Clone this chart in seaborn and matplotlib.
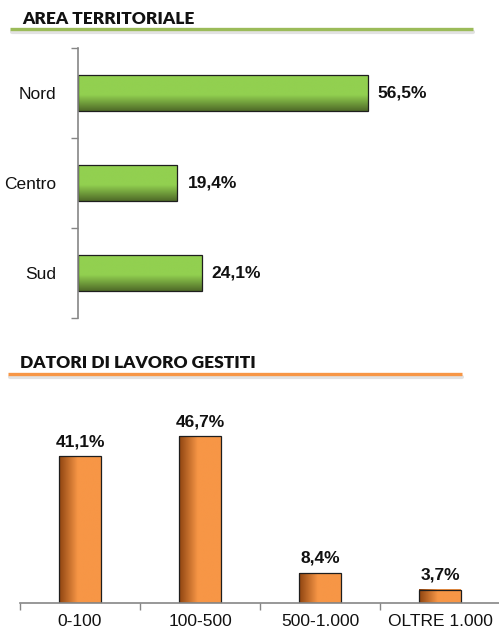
import numpy as np
import pandas as pd
import matplotlib
matplotlib.use("Agg")
import matplotlib.pyplot as plt
from matplotlib.lines import Line2D
from matplotlib.colors import LinearSegmentedColormap
import seaborn as sns

# data
aree = ["Nord", "Centro", "Sud"]
aree_pct = [56.5, 19.4, 24.1]

fasce = ["0-100", "100-500", "500-1.000", "OLTRE 1.000"]
fasce_pct = [41.1, 46.7, 8.4, 3.7]

sns.set_theme(style="white")
plt.rcParams["font.family"] = ["Liberation Sans", "DejaVu Sans"]

W, H = 499, 632
fig = plt.figure(figsize=(W / 100, H / 100), dpi=100)


def px_axes(left, top, right, bottom):
    return fig.add_axes([left / W, 1 - bottom / H, (right - left) / W, (bottom - top) / H])


def gradient_bars(ax, cmap, vertical):
    for p in ax.patches:
        x, y, w, h = p.get_x(), p.get_y(), p.get_width(), p.get_height()
        if vertical:
            grad = np.linspace(0, 1, 200).reshape(-1, 1)
        else:
            grad = np.linspace(0, 1, 200).reshape(1, -1)
        ax.imshow(grad, extent=[x, x + w, y, y + h], origin="lower", cmap=cmap,
                  aspect="auto", zorder=1, interpolation="bilinear")
        p.set_facecolor("none")
        p.set_edgecolor("#1e1e1e")
        p.set_linewidth(0.9)
        p.set_zorder(2)


def section_title(text, x0, x1, y_text, y_line, color):
    fig.text(x0 / W, 1 - y_text / H, text, fontsize=12.5, fontweight="heavy",
             family=["Lato", "DejaVu Sans"], color="#111111", va="baseline")
    fig.add_artist(Line2D([x0 / W - 0.02, x1 / W], [1 - (y_line + 3) / H] * 2,
                          color="#d0d0d0", lw=3, alpha=0.6))
    fig.add_artist(Line2D([x0 / W - 0.024, x1 / W], [1 - y_line / H] * 2,
                          color=color, lw=2.4, solid_capstyle="butt"))


# ---- AREA TERRITORIALE ----
section_title("AREA TERRITORIALE", 22, 473, 24, 29, "#9BBB59")

green = LinearSegmentedColormap.from_list(
    "g", [(0, "#92D050"), (0.55, "#92D050"), (1, "#4F6A28")])
ax1 = px_axes(78, 48, 488, 318)
df1 = pd.DataFrame({"area": aree, "pct": aree_pct})
sns.barplot(data=df1, y="area", x="pct", orient="h", width=0.4, ax=ax1)
gradient_bars(ax1, green, vertical=True)
ax1.set_xlim(0, 80)
ax1.set_ylim(2.5, -0.5)
for i, v in enumerate(aree_pct):
    ax1.text(v + 2, i, f"{v:.1f}".replace(".", ",") + "%", va="center", ha="left",
             fontsize=12.5, fontweight="bold", color="#111111")
ax1.set_xlabel("")
ax1.set_ylabel("")
ax1.set_xticks([])
ax1.set_yticks(range(len(aree)))
ax1.set_yticklabels(aree, fontsize=12.5, color="#111111")
ax1.set_yticks([-0.5, 0.5, 1.5, 2.5], minor=True)
ax1.tick_params(axis="y", which="major", length=0, pad=16)
ax1.tick_params(axis="y", which="minor", length=5, width=1, color="#868686", left=True)
for s in ["top", "right", "bottom"]:
    ax1.spines[s].set_visible(False)
ax1.spines["left"].set_color("#868686")
ax1.spines["left"].set_linewidth(1.2)

# ---- DATORI DI LAVORO GESTITI ----
section_title("DATORI DI LAVORO GESTITI", 20, 462, 368, 374, "#F79646")

orange = LinearSegmentedColormap.from_list(
    "o", [(0, "#8E4410"), (0.45, "#F79646"), (1, "#F79646")])
ax2 = px_axes(20, 424.5, 500, 603)
df2 = pd.DataFrame({"fascia": fasce, "pct": fasce_pct})
sns.barplot(data=df2, x="fascia", y="pct", width=0.35, ax=ax2)
gradient_bars(ax2, orange, vertical=False)
ax2.set_ylim(0, 50)
ax2.set_xlim(-0.5, 3.5)
for i, v in enumerate(fasce_pct):
    ax2.text(i, v + 2, f"{v:.1f}".replace(".", ",") + "%", ha="center", va="bottom",
             fontsize=12.5, fontweight="bold", color="#111111", clip_on=False)
ax2.set_xlabel("")
ax2.set_ylabel("")
ax2.set_yticks([])
ax2.set_xticks(range(len(fasce)))
ax2.set_xticklabels(fasce, fontsize=12.5, color="#111111")
ax2.set_xticks([-0.5, 0.5, 1.5, 2.5, 3.5], minor=True)
ax2.tick_params(axis="x", which="major", length=0, pad=8)
ax2.tick_params(axis="x", which="minor", length=5, width=1, color="#868686", bottom=True)
for s in ["top", "right", "left"]:
    ax2.spines[s].set_visible(False)
ax2.spines["bottom"].set_color("#868686")
ax2.spines["bottom"].set_linewidth(1.2)

fig.savefig("out.png", dpi=100)
